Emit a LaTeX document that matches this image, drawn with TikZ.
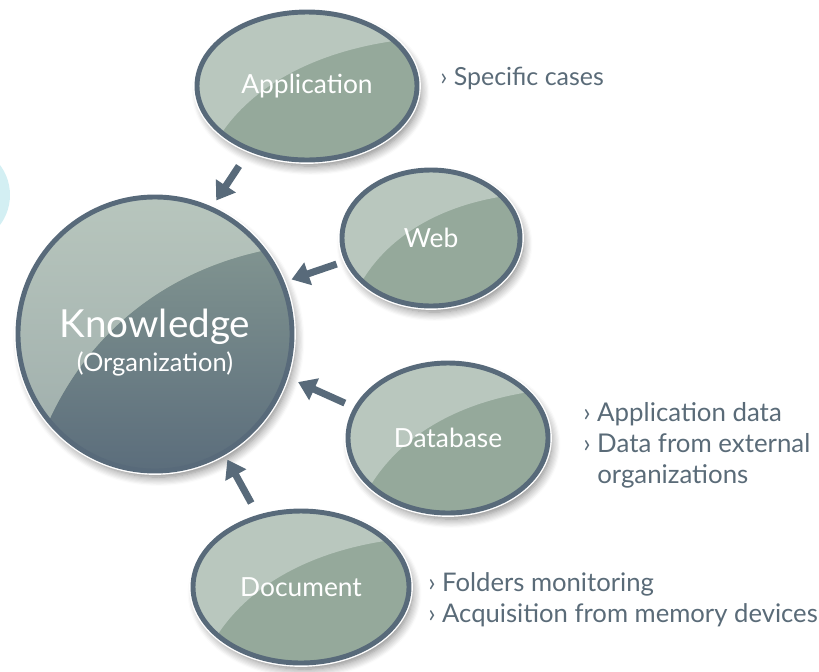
\documentclass[tikz,border=0pt]{standalone}
\usepackage{fontspec}
\setmainfont{Lato}
\usetikzlibrary{shapes.geometric,arrows.meta,calc,shadows.blur}
\definecolor{slate}{HTML}{586A7A}
\definecolor{sage}{HTML}{95A99B}
\definecolor{sagelight}{HTML}{B9C7BE}
\definecolor{notegray}{HTML}{5A6B78}
\definecolor{paleblue}{HTML}{D3EFF3}
\tikzset{
  gloss/.style={path picture={
    \fill[#1] let \p1=(path picture bounding box.south west),
      \p2=(path picture bounding box.north east),
      \n1={\x2-\x1}, \n2={\y2-\y1} in
      ({\x1+0.02*\n1},{\y1-0.05*\n2}) -- ({\x1+0.12*\n1},{\y1+0.2*\n2})
      .. controls ({\x1+0.275*\n1},{\y1+0.525*\n2}) and ({\x1+0.55*\n1},{\y1+0.725*\n2})
      .. ({\x1+0.875*\n1},{\y1+0.8*\n2}) -- ({\x1+1.05*\n1},{\y1+0.84*\n2})
      -- ({\x1+1.05*\n1},{\y2+0.05*\n2}) -- ({\x1-0.05*\n1},{\y2+0.05*\n2}) -- cycle;
  }},
  bubble/.style={ellipse, blur shadow={shadow xshift=2pt, shadow yshift=-3.5pt, shadow blur steps=8, shadow blur radius=5pt, shadow opacity=50},
    preaction={draw=white, line width=4.4pt},
    fill=sage, draw=slate, line width=2.8pt, inner sep=0pt, outer sep=0pt,
    gloss={fill=sagelight}, text=white, font=\fontsize{15}{18}\selectfont},
  note/.style={anchor=west, align=left, text=notegray, inner sep=0pt,
    font=\fontsize{14.2}{17.6}\selectfont},
  flow/.style={draw=slate, line width=4pt, -{Triangle[width=13pt,length=10pt]}}
}
\begin{document}
\begin{tikzpicture}
  \useasboundingbox (0,0) rectangle (16.38,-13.42);
  \fill[paleblue] (-0.8,-3.9) circle (1.0cm);
  % nodes
  \node [bubble, circle, minimum size=5.48cm, top color=sage!80!slate, bottom color=slate!95!sage,
    gloss={top color=sagelight, bottom color=sagelight!70!slate}, align=center]
    (know) at (3.10,-6.68) {\rule{0pt}{26pt}{\fontsize{22}{26}\selectfont Knowledge}\\[1pt]{\fontsize{14.5}{17}\selectfont (Organization)}};
  \node [bubble, minimum width=4.4cm, minimum height=2.96cm] (app) at (6.14,-1.72) {Application};
  \node [bubble, minimum width=3.56cm, minimum height=2.72cm] (web) at (8.62,-4.76) {Web};
  \node [bubble, minimum width=4.0cm, minimum height=3.0cm] (db) at (8.96,-8.76) {Database};
  \node [bubble, minimum width=4.32cm, minimum height=3.04cm] (doc) at (6.02,-11.74) {Document};
  % notes
  \node [note] (appnote) at (8.80,-1.56) {› Specific cases};
  \node [note, font=\fontsize{14.7}{17.6}\selectfont] (dbnote) at (11.66,-8.90) {› Application data\\› Data from external\\\phantom{› }organizations};
  \node [note, font=\fontsize{14.6}{17.6}\selectfont] (docnote) at (8.56,-11.99) {› Folders monitoring\\› Acquisition from memory devices};
  % edges
  \draw [flow, shorten <=0.4cm, shorten >=0.2cm] (app.228) -- (know.66);
  \draw [flow, shorten <=0.22cm, shorten >=0.2cm] (web.195) -- (know.22);
  \draw [flow, shorten <=0.25cm, shorten >=0.28cm] (db.162) -- (know.342);
  \draw [flow, shorten <=0.32cm, shorten >=0.16cm] (doc.121) -- (know.300);
\end{tikzpicture}
\end{document}
